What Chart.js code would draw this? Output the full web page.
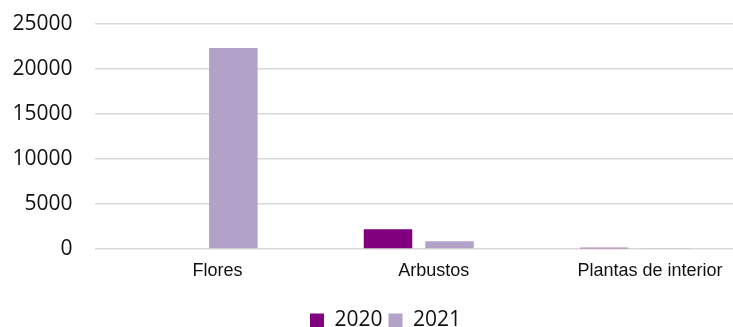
<!DOCTYPE html>
<html>
<head>
<meta charset="utf-8">
<script src="https://cdn.jsdelivr.net/npm/chart.js@4"></script>
<style>
  html, body { margin: 0; padding: 0; background: #fff; overflow: hidden; width: 733px; height: 327px; }
  #c { display: block; margin-top: -11px; }
</style>
</head>
<body>
<canvas id="c" width="743" height="352"></canvas>
<script>
const categories = ["Flores", "Arbustos", "Plantas de interior"];
const series2020 = [0, 2180, 150];
const series2021 = [22300, 850, 120];
const seriesNames = ["2020", "2021"];
const yTicks = [0, 5000, 10000, 15000, 20000, 25000];

const shiftLegend = {
  id: 'shiftLegend',
  afterLayout(chart) {
    const l = chart.legend;
    if (l) { l.left += 14; l.right += 14; }
  }
};

new Chart(document.getElementById('c'), {
  type: 'bar',
  data: {
    labels: categories,
    datasets: [
      { label: seriesNames[0], data: series2020, backgroundColor: '#800080',
        categoryPercentage: 0.569, barPercentage: 0.789 },
      { label: seriesNames[1], data: series2021, backgroundColor: '#B3A2C7',
        categoryPercentage: 0.569, barPercentage: 0.789 }
    ]
  },
  options: {
    responsive: false,
    animation: false,
    devicePixelRatio: 1,
    layout: { padding: { top: 0, left: 0, right: 0, bottom: 0 } },
    scales: {
      x: {
        grid: { display: false, drawTicks: false },
        border: { display: false },
        ticks: { font: { family: 'Liberation Sans', size: 18 }, color: '#111', padding: 11, labelOffset: 15, maxRotation: 0 },
        afterFit(s) { s.height = 55; }
      },
      y: {
        min: yTicks[0], max: yTicks[yTicks.length - 1],
        grid: { color: '#d9d9d9', lineWidth: 1.5, drawTicks: false },
        border: { display: false },
        ticks: { stepSize: yTicks[1] - yTicks[0], font: { family: 'Open Sans', size: 21 }, color: '#111', padding: 22,
                 callback: (v) => String(v) },
        afterFit(s) { s.width = 94.5; }
      }
    },
    plugins: {
      legend: {
        position: 'bottom',
        labels: { font: { family: 'Open Sans', size: 21 }, color: '#111', boxWidth: 14, boxHeight: 14, padding: 6 }
      },
      tooltip: { enabled: false }
    }
  },
  plugins: [shiftLegend]
});
</script>
</body>
</html>
